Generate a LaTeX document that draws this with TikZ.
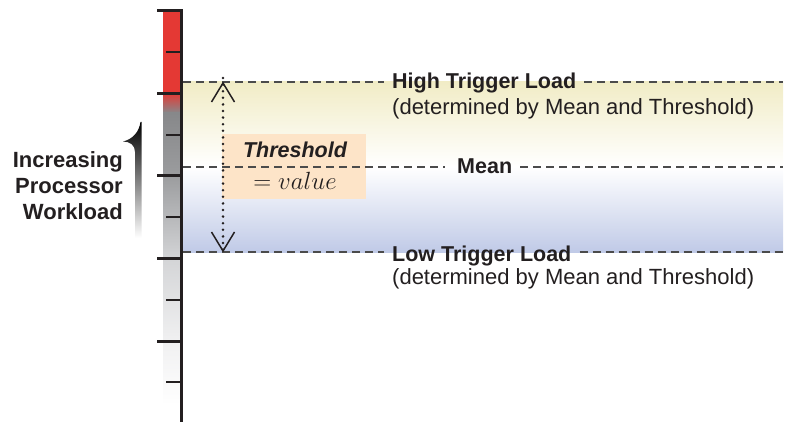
\documentclass[tikz,border=0pt]{standalone}
\usepackage{fontspec}
\setmainfont{Liberation Sans}
\definecolor{axisc}{RGB}{35,31,32}
\definecolor{dashc}{RGB}{75,75,75}
\definecolor{barred}{RGB}{228,57,52}
\definecolor{barg1}{RGB}{135,136,138}
\definecolor{barg2}{RGB}{155,156,158}
\definecolor{barg3}{RGB}{212,213,215}
\definecolor{barg4}{RGB}{240,240,241}
\definecolor{yel}{RGB}{241,236,198}
\definecolor{blu}{RGB}{192,202,231}
\definecolor{peach}{RGB}{253,228,200}
\begin{document}
\begin{tikzpicture}[x=1pt,y=-1pt,
  axisline/.style={line width=3pt, draw=axisc},
  majortick/.style={line width=3pt, draw=axisc},
  minortick/.style={line width=1.6pt, draw=axisc},
  dashline/.style={draw=dashc, line width=2pt, dash pattern=on 8pt off 5pt},
  dotline/.style={draw=axisc, line width=2.8pt, line cap=round, dash pattern=on 0pt off 6.6pt},
  headline/.style={draw=axisc, line width=1.5pt},
  boldlab/.style={font=\fontsize{21.5}{26}\selectfont\bfseries, text=axisc, inner xsep=8pt, inner ysep=0pt},
  plainlab/.style={font=\fontsize{22}{26}\selectfont, text=axisc, inner xsep=8pt, inner ysep=0pt},
  sidelab/.style={font=\fontsize{22}{26}\selectfont\bfseries, text=axisc, inner sep=0pt, anchor=base east}
]
\useasboundingbox (0,0) rectangle (803,422);
% gradient bar
\fill[barred] (163,11) rectangle (181,93);
\shade[top color=barred, bottom color=barg1] (163,93) rectangle (181,113);
\shade[top color=barg1, bottom color=barg2] (163,112.8) rectangle (181,175);
\shade[top color=barg2, bottom color=barg3] (163,174.8) rectangle (181,260);
\shade[top color=barg3, bottom color=barg4] (163,259.8) rectangle (181,340);
\shade[top color=barg4, bottom color=white] (163,339.8) rectangle (181,405);
% bands
\shade[top color=yel, bottom color=white] (183,82) rectangle (783,167);
\shade[top color=white, bottom color=blu] (183,167) rectangle (783,252);
% threshold box
\node[fill=peach, minimum width=144pt, minimum height=65pt, inner sep=0pt] (box) at (294,166.5) {};
% axis and ticks
\coordinate (axtop) at (181.5,10);
\coordinate (axbot) at (181.5,422);
\draw[axisline] (axtop) -- (axbot);
\foreach \yy in {11,93.5,176,258.5,341} {\draw[majortick] (157,\yy) -- (183,\yy);}
\foreach \yy in {52,134.75,217,299.75,382} {\draw[minortick] (166,\yy) -- (183,\yy);}
% labels
\node[boldlab, anchor=base west] (hi) at (384,89) {High Trigger Load};
\node[plainlab, anchor=base west] (hisub) at (384,115) {(determined by Mean and Threshold)};
\node[boldlab, anchor=base west, inner xsep=0pt] (mean) at (457,174) {Mean};
\node[boldlab, anchor=base west] (lo) at (384,261) {Low Trigger Load};
\node[plainlab, anchor=base west] (losub) at (384,284) {(determined by Mean and Threshold)};
% dashed lines
\coordinate (hiL) at (183,82); \coordinate (hiR) at (783,82);
\coordinate (meL) at (183,167); \coordinate (meR) at (783,167);
\coordinate (loL) at (183,252); \coordinate (loR) at (783,252);
\draw[dashline] (hiL) -- (hi.west |- hiL);
\draw[dashline] (hi.east |- hiL) -- (hiR);
\draw[dashline] (meL) -- ([xshift=-12pt]mean.west |- meL);
\draw[dashline] ([xshift=8pt]mean.east |- meL) -- (meR);
\draw[dashline] (loL) -- (lo.west |- loL);
\draw[dashline] (lo.east |- loL) -- (loR);
% threshold arrow
\coordinate (atop) at (223,83);
\coordinate (abot) at (223,251);
\draw[dotline] ([yshift=5pt]atop) -- (abot);
\draw[headline] ([shift={(-11.5,19)}]atop) -- (atop) -- ([shift={(11.5,19)}]atop);
\draw[headline] ([shift={(-11.5,-19)}]abot) -- (abot) -- ([shift={(11.5,-19)}]abot);
% threshold text
\node[font=\fontsize{21.5}{26}\selectfont\bfseries\itshape, text=axisc, anchor=base, inner sep=0pt] (thr) at (295,158) {Threshold};
\node[font=\fontsize{24}{28}\selectfont, text=axisc, anchor=base, inner sep=0pt] (val) at (295,190) {$= value$};
% side label
\node[sidelab] (inc) at (123,168) {Increasing};
\node[sidelab] (proc) at (123,194) {Processor};
\node[sidelab] (work) at (123,220) {Workload};
% curved arrow
\shade[top color=black, bottom color=white] (135,238) -- (135,152) .. controls (135,145) and (130,141.5) .. (123,141.5) .. controls (133,139) and (139,132) .. (140.5,122) -- (141.5,122) -- (141.5,238) -- cycle;
\end{tikzpicture}
\end{document}
